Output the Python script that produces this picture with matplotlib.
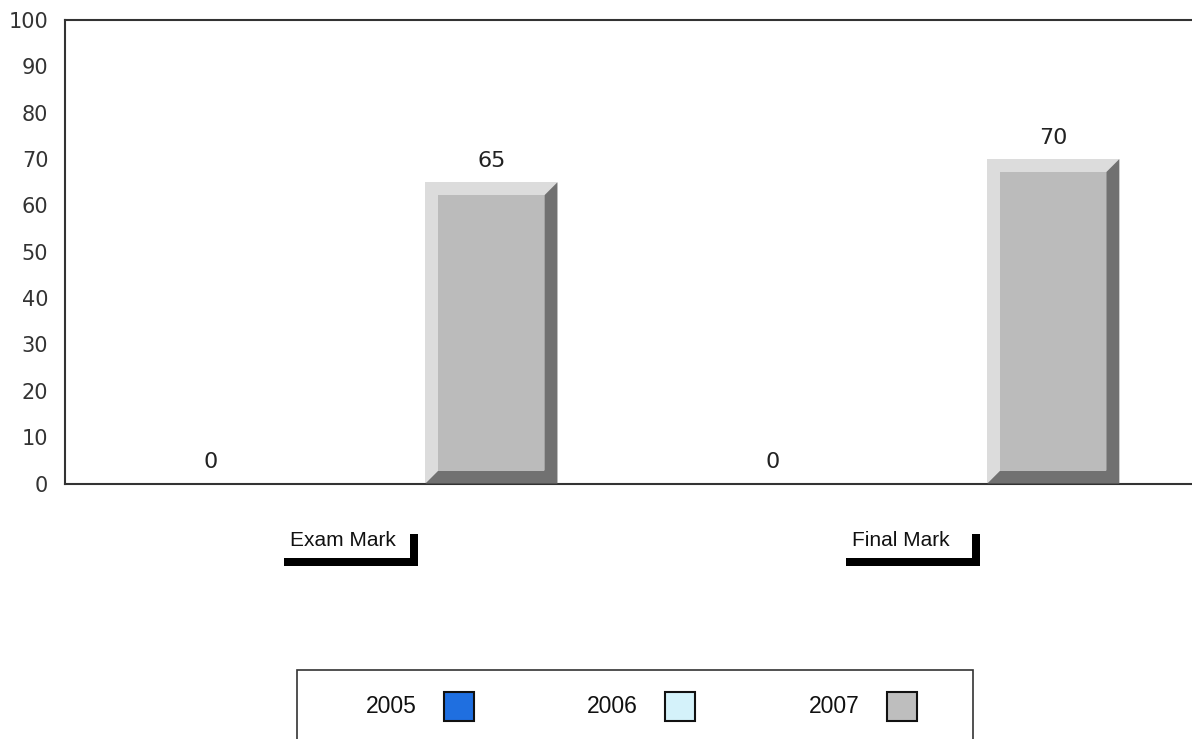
import matplotlib.pyplot as plt
from matplotlib.patches import Polygon, Rectangle
from matplotlib.transforms import blended_transform_factory

# data
categories = ["Exam Mark", "Final Mark"]
series = ["2005", "2006", "2007"]
series_colors = ["#1f6fe0", "#d4f2fa", "#bebebe"]
values_2005 = [None, None]
values_2006 = [0, 0]
values_2007 = [65, 70]
yticks = list(range(0, 101, 10))

W, H = 1192, 739
fig = plt.figure(figsize=(W / 100, H / 100), dpi=100)


def fx(px):
    return px / W


def fy(py):
    return 1 - py / H


ax = fig.add_axes([fx(65), fy(483.5), fx(1200 - 65), (483.5 - 20) / H])
x_left, x_right = -0.509, 1.511
ax.set_xlim(x_left, x_right)
ax.set_ylim(0, 100)
px_per_x = (1200 - 65) / (x_right - x_left)
px_per_y = (483.5 - 20) / 100

for side in ["left", "bottom", "top"]:
    ax.spines[side].set_color("#333333")
    ax.spines[side].set_linewidth(1.5)
ax.spines["right"].set_visible(False)
ax.set_xticks([])
ax.set_yticks(yticks)
ax.tick_params(axis="y", length=0, pad=12, labelsize=15, labelcolor="#333333")

# only series that have data get a slot
plotted = [(values_2006, series_colors[1]), (values_2007, series_colors[2])]
offsets = [-0.25, 0.25]
width = 132 / px_per_x
bx = 13 / px_per_x
by = 13 / px_per_y

for (vals, col), off in zip(plotted, offsets):
    xs = [i + off for i in range(len(categories))]
    bars = ax.bar(xs, vals, width=width, color="#dcdcdc", linewidth=0, zorder=2)
    for rect, v in zip(bars, vals):
        x0, x1 = rect.get_x(), rect.get_x() + rect.get_width()
        y0, y1 = 0, rect.get_height()
        if v > 0:
            dark = Polygon([(x0, y0), (x1, y0), (x1, y1), (x1 - bx, y1 - by),
                            (x1 - bx, y0 + by), (x0 + bx, y0 + by)],
                           closed=True, facecolor="#717171", edgecolor="none", zorder=3)
            ax.add_patch(dark)
            face = Rectangle((x0 + bx, y0 + by), x1 - x0 - 2 * bx, y1 - y0 - 2 * by,
                             facecolor="#bbbbbb", edgecolor="none", zorder=4)
            ax.add_patch(face)
        ax.annotate(str(v), (rect.get_x() + rect.get_width() / 2, v),
                    xytext=(0, 15.5), textcoords="offset points",
                    ha="center", va="center", fontsize=16, color="#222222")

# category labels with L-shaped underline
tr = blended_transform_factory(ax.transData, fig.transFigure)
half = 67 / px_per_x
for i, cat in enumerate(categories):
    c = i
    fig.patches.append(Rectangle((c - half, fy(566)), 2 * half, (566 - 558) / H,
                                 transform=tr, facecolor="black", edgecolor="none"))
    fig.patches.append(Rectangle((c + half - 8 / px_per_x, fy(566)), 8 / px_per_x,
                                 (566 - 534) / H, transform=tr,
                                 facecolor="black", edgecolor="none"))
    fig.text(c - half + 6 / px_per_x, fy(546.5), cat, transform=tr,
             ha="left", va="baseline", fontsize=15, family="Liberation Sans",
             color="#111111")

# legend box
fig.patches.append(Rectangle((fx(297), fy(760)), fx(973 - 297), (760 - 670) / H,
                             transform=fig.transFigure, facecolor="white",
                             edgecolor="#333333", linewidth=1.2))
square_x = [444, 665, 887]
for name, col, sx in zip(series, series_colors, square_x):
    fig.patches.append(Rectangle((fx(sx), fy(721)), fx(30), 29 / H,
                                 transform=fig.transFigure, facecolor=col,
                                 edgecolor="#111111", linewidth=1.5))
    fig.text(fx(sx - 27), fy(706.5), name, ha="right", va="center",
             fontsize=16.5, family="Liberation Sans", color="#111111")

fig.savefig("out.png", dpi=100)
